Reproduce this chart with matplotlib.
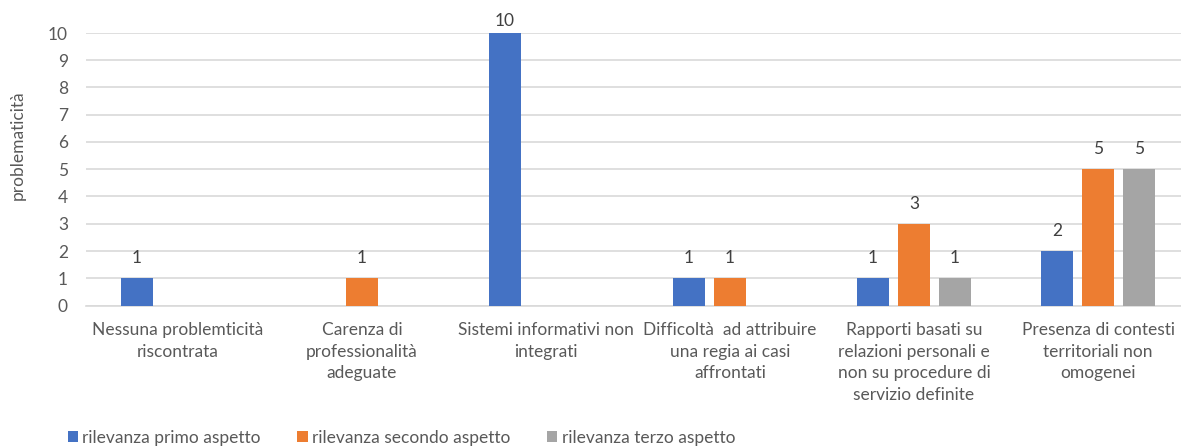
import numpy as np
import matplotlib.pyplot as plt

categorie = ["Nessuna problemticità\nriscontrata",
             "Carenza di\nprofessionalità\nadeguate",
             "Sistemi informativi non\nintegrati",
             "Difficoltà  ad attribuire\nuna regia ai casi\naffrontati",
             "Rapporti basati su\nrelazioni personali e\nnon su procedure di\nservizio definite",
             "Presenza di contesti\nterritoriali non\nomogenei"]
primo = [1, 0, 10, 1, 1, 2]
secondo = [0, 1, 0, 1, 3, 5]
terzo = [0, 0, 0, 0, 1, 5]
serie = ["rilevanza primo aspetto", "rilevanza secondo aspetto", "rilevanza terzo aspetto"]
colori = ["#4472C4", "#ED7D31", "#A5A5A5"]

plt.rcParams['font.family'] = ['Lato', 'DejaVu Sans']
grigio = "#595959"
fs = 12.5
ymax = 10

W, H = 1181, 448
fig = plt.figure(figsize=(W/100, H/100), dpi=100)
# area del grafico (in pixel), la destra esce leggermente dall'immagine
ax = fig.add_axes([86/W, 1-305.5/H, (1190-86)/W, (305.5-33)/H])

x = np.arange(len(categorie))
w = 32/184
passo = 41/184
for i, (vals, nome, c) in enumerate(zip([primo, secondo, terzo], serie, colori)):
    pos = x + (i-1)*passo
    ax.bar(pos, vals, w, color=c, label=nome, zorder=3)
    for p, v in zip(pos, vals):
        if v > 0:
            off = 3 if v >= ymax else 8.5  # come Excel: l'etichetta in cima viene schiacciata
            ax.annotate(str(v), (p, v), xytext=(0, off), textcoords="offset points",
                        ha="center", va="bottom", fontsize=fs, color="#404040")

ax.set_xlim(-0.5, len(categorie)-0.5)
ax.set_ylim(0, ymax)
ax.set_yticks(range(0, ymax+1))
ax.yaxis.grid(True, color="#D9D9D9", linewidth=1.2, zorder=0)
for s in ["top", "right", "left"]:
    ax.spines[s].set_visible(False)
ax.spines["bottom"].set_color("#D9D9D9")
ax.spines["bottom"].set_linewidth(1.2)
ax.tick_params(axis="both", length=0, colors=grigio, labelsize=fs)
ax.tick_params(axis="y", pad=13)
ax.set_xticks(x)
ax.set_xticklabels(categorie, linespacing=1.42, va="top")
ax.tick_params(axis="x", pad=12)

fig.text(18/W, 1-145/H, "problematicità", rotation=90, ha="center", va="center",
         fontsize=fs, color=grigio)

leg = fig.legend(loc="center left", bbox_to_anchor=(52/W, 1-438/H), ncol=3, frameon=False,
                 fontsize=fs, handlelength=0.6, handleheight=0.6, handletextpad=0.25,
                 columnspacing=2.1, labelcolor=grigio)

fig.savefig("out.png", dpi=100)
